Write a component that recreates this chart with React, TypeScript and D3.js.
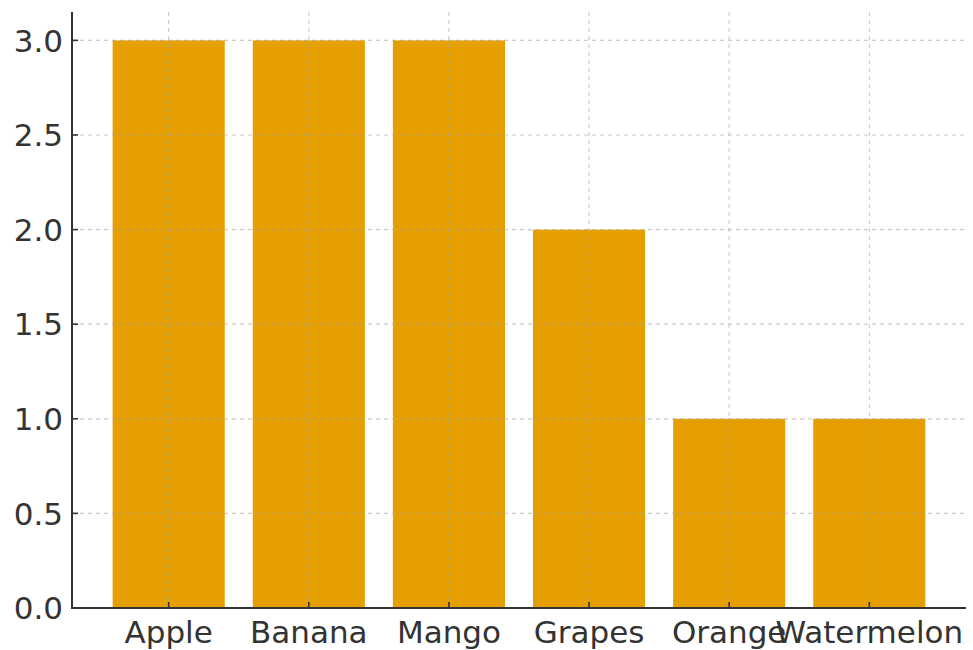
import React from "react";
import * as d3 from "d3";

const categories = ["Apple", "Banana", "Mango", "Grapes", "Orange", "Watermelon"];
const counts = [3, 3, 3, 2, 1, 1];
const yTicks = [0, 0.5, 1.0, 1.5, 2.0, 2.5, 3.0];

export default function App() {
  const W = 973, H = 650;
  const left = 72, right = 966, top = 12, bottom = 608;
  const x = d3.scaleLinear().domain([-0.69, 5.69]).range([left, right]);
  const y = d3.scaleLinear().domain([0, 3.15]).range([bottom, top]);
  const bw = x(0.4) - x(-0.4);
  const font = "DejaVu Sans, sans-serif";
  const ink = "#333333";
  return (
    <svg width={W} height={H} style={{ position: "absolute", left: 0, top: 0 }}>
      <rect width={W} height={H} fill="#fff" />
      {categories.map((c, i) => (
        <rect key={c} x={x(i) - bw / 2} y={y(counts[i])} width={bw} height={y(0) - y(counts[i])} fill="#E69F00" />
      ))}
      {yTicks.map((t) => (
        <line key={"gy" + t} x1={left} x2={right} y1={y(t)} y2={y(t)} stroke="#a8a8a8" strokeOpacity={0.6} strokeWidth={1.2} strokeDasharray="4,4" />
      ))}
      {categories.map((c, i) => (
        <line key={"gx" + c} x1={x(i)} x2={x(i)} y1={top} y2={bottom} stroke="#a8a8a8" strokeOpacity={0.6} strokeWidth={1.2} strokeDasharray="4,4" />
      ))}
      <line x1={left} x2={left} y1={top} y2={bottom + 1} stroke={ink} strokeWidth={2} />
      <line x1={left - 1} x2={right} y1={bottom} y2={bottom} stroke={ink} strokeWidth={2} />
      {yTicks.map((t) => (
        <g key={"ty" + t}>
          <line x1={left} x2={left + 6} y1={y(t)} y2={y(t)} stroke={ink} strokeWidth={1.6} />
          <text x={left - 9} y={y(t)} dy="0.36em" textAnchor="end" fontFamily={font} fontSize={31} fill={ink}>
            {t.toFixed(1)}
          </text>
        </g>
      ))}
      {categories.map((c, i) => (
        <g key={"tx" + c}>
          <line x1={x(i)} x2={x(i)} y1={bottom} y2={bottom - 6} stroke={ink} strokeWidth={1.6} />
          <text x={x(i)} y={bottom + 35} textAnchor="middle" fontFamily={font} fontSize={31} fill={ink}>
            {c}
          </text>
        </g>
      ))}
    </svg>
  );
}
